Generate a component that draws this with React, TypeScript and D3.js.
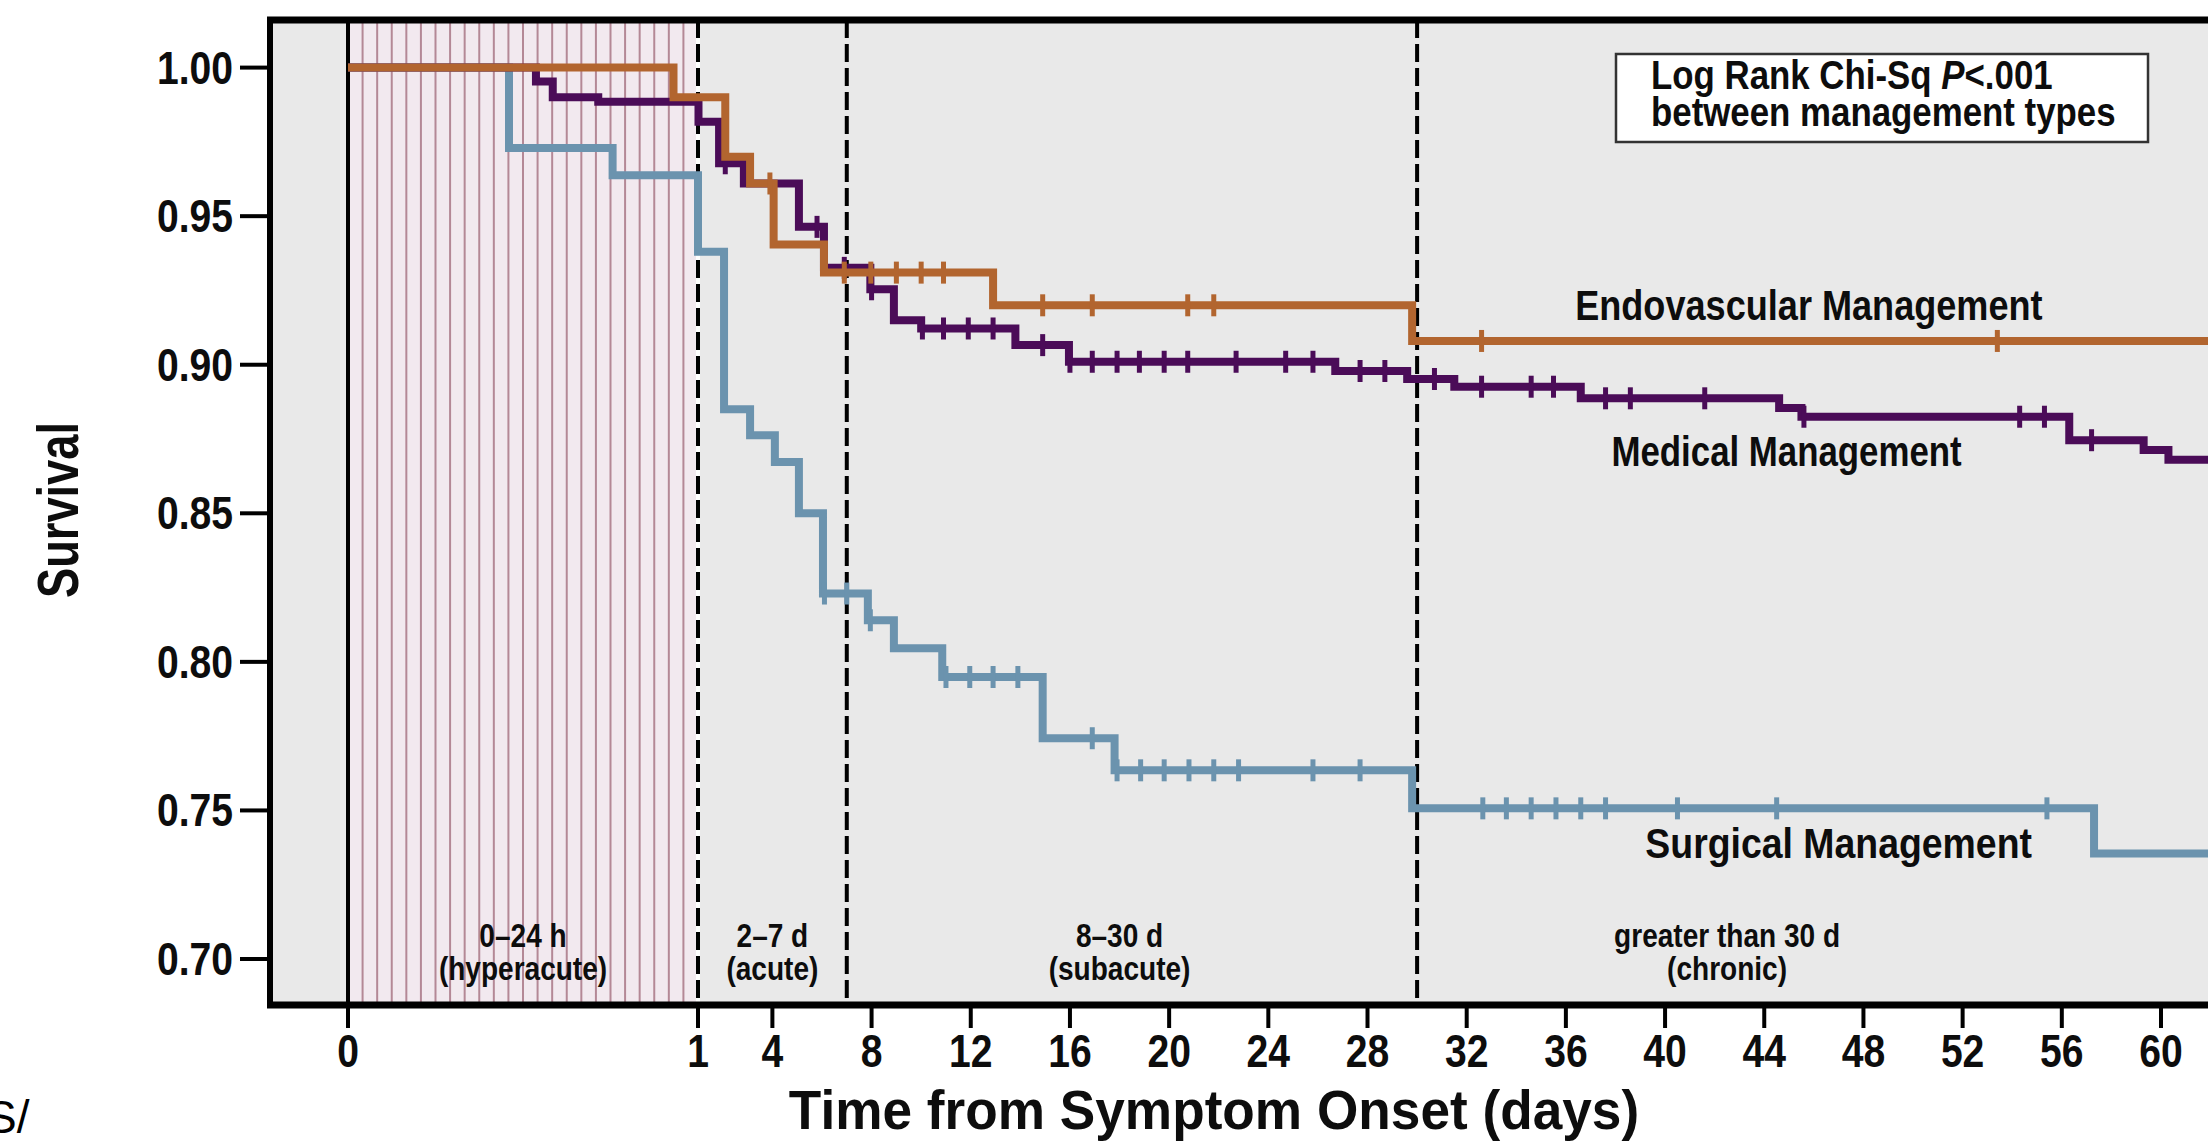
import React from 'react';
import * as d3 from 'd3';

const W = 2208;
const H = 1142;

// axis ticks
const xTicks = [0, 1, 4, 8, 12, 16, 20, 24, 28, 32, 36, 40, 44, 48, 52, 56, 60];
const yTicks = [0.7, 0.75, 0.8, 0.85, 0.9, 0.95, 1.0];

// phase boundaries (days) and labels
const hyperacuteEnd = 1;
const dashedDays = [1, 7, 30];
const phaseDays = [0.5, 4, 18, 42.5];
const phaseTop = ['0\u201324 h', '2\u20137 d', '8\u201330 d', 'greater than 30 d'];
const phaseBottom = ['(hyperacute)', '(acute)', '(subacute)', '(chronic)'];

// Kaplan-Meier curves: event time (days) -> survival from that time on
const endoTimes = [0, 0.93, 2.1, 3.1, 4.05, 6.08, 12.9, 29.8];
const endoSurv = [1.0, 0.99, 0.97, 0.961, 0.9405, 0.931, 0.92, 0.908];
const endoCensor = [3.9, 6.9, 7.97, 9.0, 10.0, 10.9, 14.9, 16.9, 20.75, 21.8, 32.6, 53.4];

const medTimes = [0, 0.537, 0.585, 0.715, 1.02, 1.85, 2.85, 5.07, 6.08, 7.95, 8.9, 10.0, 13.8, 15.96, 26.7, 29.6, 31.5, 36.6, 44.6, 45.5, 56.3, 59.3, 60.3];
const medSurv = [1.0, 0.9953, 0.99, 0.9885, 0.9818, 0.9678, 0.961, 0.9464, 0.9326, 0.9254, 0.915, 0.9122, 0.9066, 0.901, 0.8979, 0.8952, 0.8926, 0.8887, 0.8854, 0.8825, 0.8746, 0.8713, 0.868];
const medCensor = [2.1, 5.8, 6.9, 8.0, 10.05, 10.9, 11.9, 12.9, 14.9, 16.0, 16.9, 17.9, 18.8, 19.8, 20.75, 22.7, 24.7, 25.8, 27.7, 28.7, 30.7, 32.6, 34.6, 35.5, 37.6, 38.6, 41.6, 45.6, 54.3, 55.3, 57.2];

const surgTimes = [0, 0.46, 0.756, 1.0, 2.05, 3.1, 4.1, 5.07, 6.04, 7.85, 8.9, 10.85, 14.9, 17.8, 29.8, 57.3];
const surgSurv = [1.0, 0.9729, 0.9638, 0.938, 0.885, 0.8763, 0.8673, 0.85, 0.823, 0.814, 0.8046, 0.7949, 0.7743, 0.7635, 0.7507, 0.7355];
const surgCensor = [6.1, 7.0, 7.95, 11.0, 11.96, 12.9, 13.9, 16.9, 17.9, 18.85, 19.8, 20.8, 21.8, 22.8, 25.8, 27.7, 32.65, 33.6, 34.6, 35.6, 36.6, 37.6, 40.5, 44.5, 55.4];

const seriesNames = ['Surgical Management', 'Medical Management', 'Endovascular Management'];
// where each series name sits (day of centre, survival at baseline)
const nameDays = [47.0, 44.9, 45.8];
const nameSurv = [0.7339, 0.8659, 0.915];

const lastDay = 64;

const FONT = '"Liberation Sans", Arial, Helvetica, sans-serif';

// condensed bold text, like the Helvetica Condensed of the original figure
function CText(props: {
  x: number;
  y: number;
  size: number;
  sx?: number;
  rotate?: number;
  anchor?: string;
  weight?: string;
  children: React.ReactNode;
}) {
  const { x, y, size, sx = 0.85, rotate = 0, anchor = 'middle', weight = 'bold', children } = props;
  return (
    <text
      transform={`translate(${x},${y}) rotate(${rotate}) scale(${sx},1)`}
      textAnchor={anchor}
      fontWeight={weight}
      fontSize={size}
      fill="#0d0d0d"
    >
      {children}
    </text>
  );
}

export default function App() {
  const x = d3.scaleLinear().domain([0, 1, 60]).range([348, 698, 2161]);
  const y = d3.scaleLinear().domain([0.7, 1.0]).range([959, 67.6]);

  const plotLeft = 270;
  const plotTop = 20;
  const plotBottom = 1005;
  const plotRight = W + 40;

  const series = [
    { name: seriesNames[0], times: surgTimes, surv: surgSurv, censor: surgCensor, color: '#6b93ae', sx: 0.87 },
    { name: seriesNames[1], times: medTimes, surv: medSurv, censor: medCensor, color: '#4b0c58', sx: 0.81 },
    { name: seriesNames[2], times: endoTimes, surv: endoSurv, censor: endoCensor, color: '#b2652f', sx: 0.84 },
  ];

  const line = d3
    .line<[number, number]>()
    .x(d => x(d[0]))
    .y(d => y(d[1]))
    .curve(d3.curveStepAfter);

  const levelAt = (times: number[], surv: number[], t: number) => {
    const i = d3.bisectRight(times, t) - 1;
    return surv[Math.max(0, i)];
  };

  const stripes = d3.range(1, 24).map(k => (k / 24) * hyperacuteEnd);

  return (
    <div style={{ position: 'absolute', left: 0, top: 0 }}>
      <svg width={W} height={H} style={{ display: 'block', background: '#fff' }} fontFamily={FONT}>
        {/* plot background */}
        <rect x={plotLeft} y={plotTop} width={plotRight - plotLeft} height={plotBottom - plotTop} fill="#e9e9e9" />
        {/* hyperacute band */}
        <rect x={x(0)} y={plotTop} width={x(hyperacuteEnd) - x(0)} height={plotBottom - plotTop} fill="#f2e9ef" />
        {stripes.map((d, i) => (
          <line key={i} x1={x(d)} x2={x(d)} y1={plotTop} y2={plotBottom} stroke="#b48896" strokeWidth={2} />
        ))}
        {/* day 0 line */}
        <line x1={x(0)} x2={x(0)} y1={plotTop} y2={plotBottom} stroke="#000" strokeWidth={4} />
        {/* phase boundaries */}
        {dashedDays.map((d, i) => (
          <g key={i}>
            {i === 0 && <line x1={x(d)} x2={x(d)} y1={plotTop} y2={plotBottom} stroke="#fff" strokeWidth={4} />}
            <line x1={x(d)} x2={x(d)} y1={plotTop} y2={plotBottom} stroke="#000" strokeWidth={4} strokeDasharray="18 6" />
          </g>
        ))}

        {/* curves */}
        {series.map(s => {
          const pts: [number, number][] = s.times.map((t, i) => [t, s.surv[i]] as [number, number]);
          pts.push([lastDay, s.surv[s.surv.length - 1]]);
          return (
            <g key={s.name}>
              <path d={line(pts) ?? ''} fill="none" stroke={s.color} strokeWidth={8} strokeLinejoin="miter" />
              {s.censor.map((c, j) => {
                const cy = y(levelAt(s.times, s.surv, c));
                return <line key={j} x1={x(c)} x2={x(c)} y1={cy - 11} y2={cy + 11} stroke={s.color} strokeWidth={5} />;
              })}
            </g>
          );
        })}

        {/* phase labels */}
        {phaseDays.map((d, i) => (
          <g key={i}>
            <CText x={x(d)} y={947} size={33}>{phaseTop[i]}</CText>
            <CText x={x(d)} y={980} size={33}>{phaseBottom[i]}</CText>
          </g>
        ))}

        {/* series names */}
        {series.map((s, i) => (
          <CText key={s.name} x={x(nameDays[i])} y={y(nameSurv[i])} size={43} sx={s.sx}>
            {s.name}
          </CText>
        ))}

        {/* log rank box */}
        <rect x={1616} y={54} width={532} height={88} fill="#fff" stroke="#333" strokeWidth={2.5} />
        <CText x={1651} y={89} size={41} anchor="start">
          Log Rank Chi-Sq <tspan fontStyle="italic">P</tspan>&lt;.001
        </CText>
        <CText x={1651} y={126} size={41} anchor="start">
          between management types
        </CText>

        {/* frame */}
        <line x1={plotLeft - 3} x2={plotRight} y1={plotTop} y2={plotTop} stroke="#000" strokeWidth={7} />
        <line x1={plotLeft} x2={plotLeft} y1={plotTop - 3} y2={plotBottom + 3} stroke="#000" strokeWidth={6} />
        <line x1={plotLeft - 3} x2={plotRight} y1={plotBottom} y2={plotBottom} stroke="#000" strokeWidth={7} />

        {/* y axis */}
        {yTicks.map(t => (
          <g key={t}>
            <line x1={240} x2={plotLeft} y1={y(t)} y2={y(t)} stroke="#000" strokeWidth={4} />
            <CText x={233} y={y(t) + 16} size={46} anchor="end">
              {d3.format('.2f')(t)}
            </CText>
          </g>
        ))}
        <CText x={78} y={510} size={58} sx={0.78} rotate={-90}>
          Survival
        </CText>

        {/* x axis */}
        {xTicks.map(t => (
          <g key={t}>
            <line x1={x(t)} x2={x(t)} y1={plotBottom} y2={1028} stroke="#000" strokeWidth={4} />
            <CText x={x(t)} y={1067} size={46}>
              {t}
            </CText>
          </g>
        ))}
        <CText x={1214} y={1129} size={56} sx={0.95}>
          Time from Symptom Onset (days)
        </CText>

        {/* clipped fragment at bottom-left */}
        <text x={-14} y={1133} fontSize={46} fill="#000">S/</text>
      </svg>
    </div>
  );
}
